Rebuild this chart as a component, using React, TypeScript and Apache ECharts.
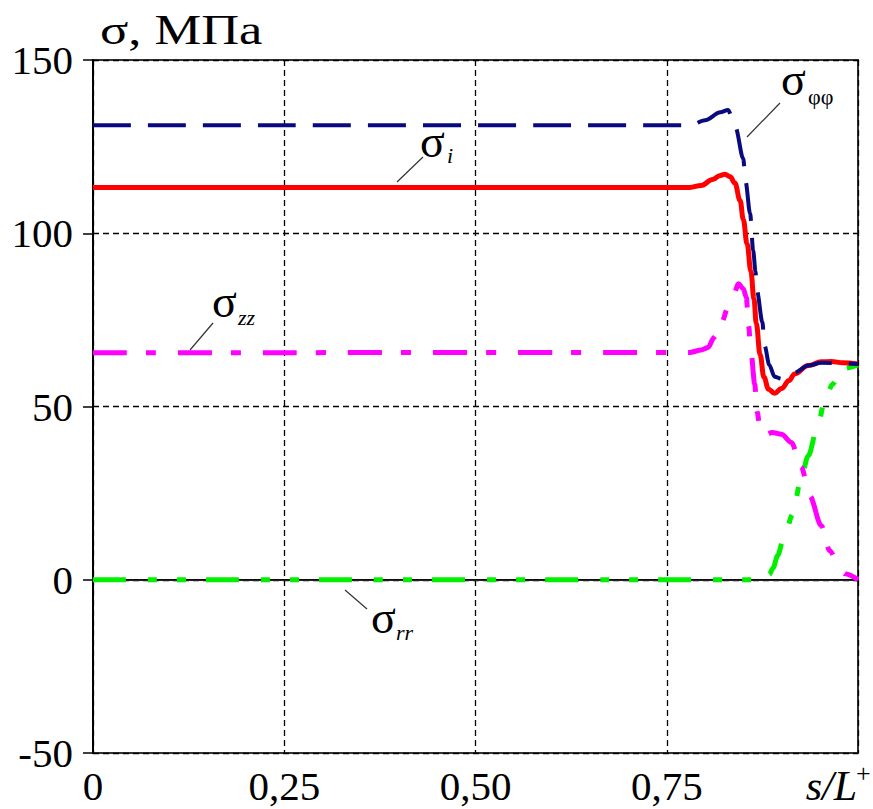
import React, { useEffect, useRef } from "react";
import * as echarts from "echarts";

// ---- data ----
const xTicks = [0, 0.25, 0.5, 0.75, 1];
const xTickLabels = ["0", "0,25", "0,50", "0,75", ""];
const yTicks = [-50, 0, 50, 100, 150];

// sigma_i (red)
const siX = [0, 0.78, 0.795, 0.81, 0.82, 0.826, 0.833, 0.839, 0.846, 0.85, 0.855, 0.86, 0.864, 0.867, 0.872, 0.877, 0.883, 0.891, 0.9, 0.91, 0.917, 0.935, 0.952, 0.965, 0.98, 1];
const siY = [113.2, 113.2, 113.8, 115.5, 116.7, 117, 116.3, 114.5, 109.4, 104, 97, 89, 81, 74, 65, 58.5, 55, 53.8, 55.2, 57.5, 59.4, 61.8, 62.9, 63, 62.6, 62.3];

// sigma_phiphi (navy)
const sfX = [0, 0.781, 0.8, 0.82, 0.83, 0.84, 0.85, 0.853, 0.859, 0.863, 0.866, 0.868, 0.875, 0.878, 0.884, 0.891, 0.9, 0.917, 0.935, 0.952, 1];
const sfY = [131.2, 131.2, 132.6, 134.9, 135.6, 130.5, 121.5, 115, 105.6, 95, 89, 83.4, 74.3, 67.5, 62, 58.6, 58, 59.8, 61.8, 62.6, 62.3];

// sigma_zz (magenta)
const szX = [0, 0.78, 0.795, 0.804, 0.812, 0.821, 0.83, 0.836, 0.844, 0.85, 0.854, 0.857, 0.86, 0.865, 0.868, 0.872, 0.876, 0.888, 0.9, 0.913, 0.926, 0.937, 0.952, 0.963, 0.975, 0.983, 1];
const szY = [65.5, 65.6, 66.3, 67, 70, 73.8, 78.5, 81.5, 85.4, 84, 81.5, 73.3, 66, 56.5, 48.5, 44, 41.5, 42.5, 42, 39.6, 32.4, 24.2, 15.6, 8.4, 4, 1.7, 0];

// sigma_rr (green)
const srX = [0, 0.865, 0.875, 0.884, 0.889, 0.895, 0.902, 0.915, 0.924, 0.935, 0.947, 0.957, 0.967, 0.976, 0.98, 1];
const srY = [0, 0, 0.3, 1.5, 3.4, 7, 11.3, 19, 27.7, 35.8, 44, 52.2, 56.5, 59.4, 60.9, 62];

const zeroX = [0, 1];
const zeroY = [0, 0];

const pairs = (xs: number[], ys: number[]) => xs.map((x, i) => [x, ys[i]]);

const SERIF = "'Liberation Serif', 'Times New Roman', serif";

function txt(text: string, x: number, y: number, size: number, opts: any = {}) {
  return {
    type: "text",
    x,
    y,
    scaleX: opts.scaleX || 1,
    silent: true,
    z: 100,
    style: {
      text,
      fontSize: size,
      fontFamily: SERIF,
      fontStyle: opts.italic ? "italic" : "normal",
      fill: "#000",
      textAlign: opts.align || "left",
      align: opts.align || "left",
      textVerticalAlign: "middle",
      verticalAlign: "middle",
    },
  };
}

function leader(x1: number, y1: number, x2: number, y2: number) {
  return {
    type: "line",
    silent: true,
    z: 100,
    shape: { x1, y1, x2, y2 },
    style: { stroke: "#333", lineWidth: 1.2 },
  };
}

export default function App() {
  const ref = useRef<HTMLDivElement>(null);
  useEffect(() => {
    if (!ref.current) return;
    const chart = echarts.init(ref.current, null, { renderer: "svg" });
    chart.setOption({
      animation: false,
      backgroundColor: "#fff",
      grid: {
        left: 93,
        right: 15,
        top: 60,
        bottom: 56,
        show: true,
        borderColor: "#333",
        borderWidth: 2,
        backgroundColor: "transparent",
      },
      xAxis: {
        type: "value",
        min: 0,
        max: 1,
        interval: 0.25,
        axisLine: { show: true, lineStyle: { color: "#333", width: 2 } },
        axisTick: { show: false },
        axisLabel: {
          fontSize: 41,
          fontFamily: SERIF,
          color: "#000",
          margin: 12,
          formatter: (v: number) => {
            const i = xTicks.findIndex((t) => Math.abs(t - v) < 1e-6);
            return i >= 0 ? xTickLabels[i] : "";
          },
        },
        splitLine: { show: true, lineStyle: { color: "#000", width: 1.3, type: [6, 4] } },
      },
      yAxis: {
        type: "value",
        min: yTicks[0],
        max: yTicks[yTicks.length - 1],
        interval: 50,
        axisLine: { show: true, lineStyle: { color: "#000", width: 2 } },
        axisTick: { show: true, inside: false, length: 10, lineStyle: { color: "#000", width: 1.5 } },
        axisLabel: { fontSize: 41, fontFamily: SERIF, color: "#000", margin: 20 },
        splitLine: { show: true, lineStyle: { color: "#000", width: 1.3, type: [6, 4] } },
      },
      series: [
        {
          name: "zero",
          type: "line",
          data: pairs(zeroX, zeroY),
          showSymbol: false,
          silent: true,
          z: 1,
          lineStyle: { color: "#000", width: 1.2 },
        },
        {
          name: "σrr",
          type: "line",
          data: pairs(srX, srY),
          showSymbol: false,
          smooth: 0.3,
          smoothMonotone: "x",
          z: 3,
          lineStyle: { color: "#00f000", width: 5, type: [33, 22, 9, 20, 9, 20], cap: "butt" },
        },
        {
          name: "σzz",
          type: "line",
          data: pairs(szX, szY),
          showSymbol: false,
          smooth: 0.3,
          smoothMonotone: "x",
          z: 4,
          lineStyle: { color: "#ff00ff", width: 5, type: [34, 19, 10, 22], cap: "butt" },
        },
        {
          name: "σi",
          type: "line",
          data: pairs(siX, siY),
          showSymbol: false,
          smooth: 0.4,
          smoothMonotone: "x",
          z: 5,
          lineStyle: { color: "#ff0000", width: 5 },
        },
        {
          name: "σφφ",
          type: "line",
          data: pairs(sfX, sfY),
          showSymbol: false,
          smooth: 0.3,
          smoothMonotone: "x",
          z: 6,
          lineStyle: { color: "#0a0a80", width: 4, type: [38, 17], cap: "butt" },
        },
      ],
      graphic: [
        txt("σ, МПа", 100, 30, 42, { scaleX: 1.25 }),
        // sigma_i
        txt("σ", 420, 141, 46),
        txt("i", 447, 155, 22, { italic: true }),
        leader(397, 182, 423, 157),
        // sigma_zz
        txt("σ", 212, 301, 46),
        txt("zz", 238, 317, 22, { italic: true }),
        leader(190, 350, 213, 323),
        // sigma_phiphi
        txt("σ", 781, 79, 46),
        txt("φφ", 808, 96, 22),
        leader(747, 137, 780, 103),
        // sigma_rr
        txt("σ", 371, 617, 46),
        txt("rr", 396, 632, 22, { italic: true }),
        leader(345, 590, 367, 609),
        // x axis name
        txt("s/L", 857, 786, 42, { italic: true, align: "right" }),
        txt("+", 856, 773, 26),
      ],
    });
    return () => chart.dispose();
  }, []);
  return (
    <div
      ref={ref}
      style={{ position: "absolute", left: 0, top: 0, width: 873, height: 809 }}
    />
  );
}
